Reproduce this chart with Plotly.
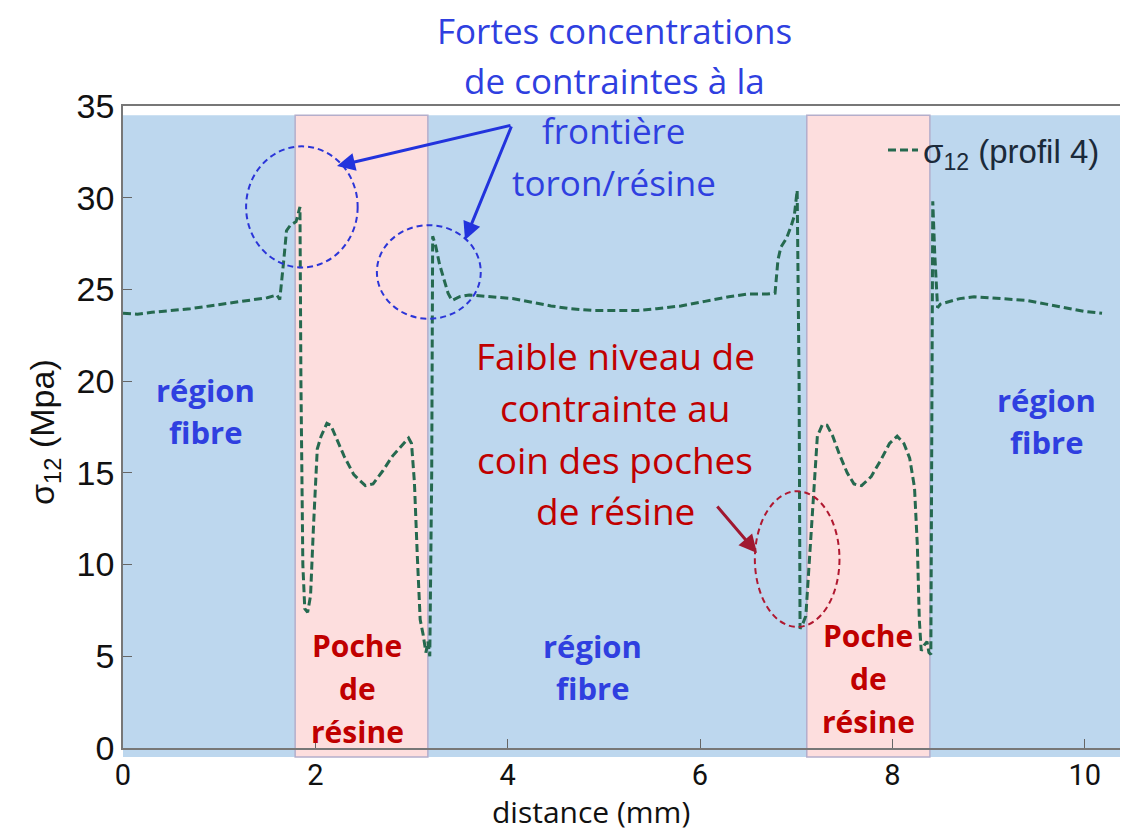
import plotly.graph_objects as go

# profil 4 : contrainte de cisaillement sigma_12 le long de la distance
distance = [0.0, 0.15, 0.3, 0.5, 0.7, 0.9, 1.1, 1.3, 1.5, 1.6, 1.63, 1.67, 1.70, 1.74, 1.80, 1.84,
            1.85, 1.87, 1.89, 1.92, 1.95, 1.98, 2.02, 2.06, 2.12, 2.16, 2.22, 2.30, 2.40, 2.52,
            2.60, 2.70, 2.80, 2.90, 2.97, 3.00, 3.03, 3.06, 3.09, 3.12, 3.15, 3.17, 3.19, 3.21,
            3.22, 3.25, 3.29, 3.34, 3.38, 3.42, 3.50, 3.6, 3.7, 3.85, 4.05, 4.25, 4.45, 4.65,
            4.9, 5.1, 5.35, 5.55, 5.8, 6.05, 6.3, 6.5, 6.7, 6.78, 6.81, 6.84, 6.9, 6.95, 6.98,
            7.01, 7.03, 7.04, 7.07, 7.10, 7.14, 7.18, 7.22, 7.27, 7.32, 7.38, 7.45, 7.53, 7.60,
            7.68, 7.78, 7.88, 7.97, 8.05, 8.12, 8.18, 8.23, 8.26, 8.28, 8.30, 8.33, 8.36, 8.38,
            8.40, 8.42, 8.44, 8.46, 8.47, 8.50, 8.57, 8.7, 8.85, 9.0, 9.2, 9.4, 9.6, 9.8, 10.0, 10.18]
sigma12 = [23.7, 23.65, 23.75, 23.85, 23.95, 24.1, 24.25, 24.4, 24.55, 24.7, 24.45, 26.5, 28.2, 28.5, 28.7, 29.5,
           20.0, 10.0, 7.6, 7.4, 8.3, 12.0, 16.3, 17.0, 17.7, 17.6, 16.9, 15.9, 14.9, 14.3,
           14.4, 15.1, 15.9, 16.5, 16.9, 16.6, 14.5, 10.5, 7.0, 6.2, 5.2, 5.8, 5.0, 15.0,
           27.9, 27.4, 26.4, 25.5, 24.8, 24.4, 24.6, 24.7, 24.65, 24.6, 24.5, 24.3, 24.1, 23.95,
           23.85, 23.85, 23.85, 23.95, 24.1, 24.35, 24.6, 24.75, 24.75, 24.8, 26.6, 27.3, 27.8, 28.5, 29.0,
           30.4, 20.0, 6.5, 6.8, 7.2, 10.5, 13.5, 17.0, 17.6, 17.6, 17.0, 16.0, 15.0, 14.4,
           14.3, 14.8, 15.7, 16.6, 17.0, 16.6, 15.8, 14.2, 11.0, 7.0, 5.3, 5.6, 5.8, 5.2,
           5.1, 29.8, 27.0, 25.0, 24.0, 24.2, 24.3, 24.5, 24.6, 24.55, 24.5, 24.4, 24.2, 24.0, 23.8, 23.7]

# poches de resine (debut, fin) en mm
poches = [(1.79, 3.17), (7.11, 8.39)]
x_max = 10.45

BLUE_TXT = "#2f3fe0"
RED_TXT = "#c00000"
FONT_TXT = "Open Sans, Lato, sans-serif"
FONT_NUM = "Liberation Sans, Arial"

# conversion pixels de la page -> paper (zone de trace : 123..1128 x 106..748)
def px(x):
    return (x - 123) / 1005

def py(y):
    return (748 - y) / 642

fig = go.Figure()

fig.add_trace(go.Scatter(
    x=distance, y=sigma12, mode="lines",
    name="σ<sub>12</sub> (profil 4)",
    line=dict(color="#25694f", width=3, dash="8px,4px"),
))

# fond : region fibre (bleu) et poches de resine (rose)
fig.add_shape(type="rect", xref="x", yref="paper", x0=0, x1=x_max, y0=-0.014, y1=34.5 / 35,
              fillcolor="#bdd7ee", line_width=0, layer="below")
for a, b in poches:
    fig.add_shape(type="rect", xref="x", yref="paper", x0=a, x1=b, y0=-0.014, y1=34.5 / 35,
                  fillcolor="#fddede", line=dict(color="#b4aecb", width=1.5), layer="below")

# ellipses en pointilles
fig.add_shape(type="circle", xref="x", yref="y", x0=1.28, x1=2.44, y0=26.2, y1=32.8,
              line=dict(color="#2b35d8", width=2, dash="6px,4px"))
fig.add_shape(type="circle", xref="x", yref="y", x0=2.64, x1=3.72, y0=23.4, y1=28.5,
              line=dict(color="#2b35d8", width=2, dash="6px,4px"))
fig.add_shape(type="circle", xref="x", yref="y", x0=6.57, x1=7.45, y0=6.6, y1=14.0,
              line=dict(color="#b01830", width=2, dash="6px,4px"))

def txt(s, x, y, color, size, bold=False):
    fig.add_annotation(text=f"<b>{s}</b>" if bold else s, x=px(x), y=py(y), xref="paper", yref="paper",
                       showarrow=False, xanchor="center", yanchor="middle",
                       font=dict(family=FONT_TXT, size=size, color=color))

for s, y in [("Fortes concentrations", 31), ("de contraintes à la", 80),
             ("frontière", 131), ("toron/résine", 183)]:
    txt(s, 614, y, BLUE_TXT, 35)

for s, y in [("Faible niveau de", 355), ("contrainte au", 407),
             ("coin des poches", 459), ("de résine", 510)]:
    txt(s, 615, y, RED_TXT, 37)

for cx, cy in [(205, 390), (592, 646), (1046, 400)]:
    txt("région", cx, cy, BLUE_TXT, 31, bold=True)
    txt("fibre", cx, cy + 42, BLUE_TXT, 31, bold=True)

for cx, cy in [(357, 645), (868, 635)]:
    txt("Poche", cx, cy, RED_TXT, 30, bold=True)
    txt("de", cx, cy + 43, RED_TXT, 30, bold=True)
    txt("résine", cx, cy + 86, RED_TXT, 30, bold=True)

# fleches
def arrow(hx, hy, tx, ty, color):
    fig.add_annotation(x=px(hx), y=py(hy), xref="paper", yref="paper", text="",
                       showarrow=True, ax=tx - hx, ay=ty - hy, arrowhead=2, arrowsize=1.2,
                       arrowwidth=3, arrowcolor=color)

arrow(337, 166, 512, 125, "#2233dd")
arrow(465, 240, 512, 125, "#2233dd")
arrow(757, 553, 716, 505, "#a01830")

# titres des axes
fig.add_annotation(text="distance (mm)", x=px(591), y=py(811), xref="paper", yref="paper",
                   showarrow=False, xanchor="center", yanchor="middle",
                   font=dict(family=FONT_TXT, size=30, color="#111111"))
fig.add_annotation(text="σ<sub>12</sub> (Mpa)", x=px(45), y=py(432),
                   xref="paper", yref="paper", showarrow=False, xanchor="center", yanchor="middle",
                   textangle=-90, font=dict(family=FONT_NUM, size=34, color="#111111"))

fig.update_xaxes(range=[0, x_max], dtick=2, tick0=0, ticks="inside", ticklen=9, tickcolor="#666666",
                 showline=True, linecolor="#777777", linewidth=1.5, mirror=True, showgrid=False,
                 zeroline=False,
                 tickfont=dict(family="Liberation Sans Narrow, Roboto, Liberation Sans", size=29,
                               color="#111111"))
fig.update_yaxes(range=[0, 35], dtick=5, tick0=0, ticks="inside", ticklen=9, tickcolor="#666666",
                 showline=True, linecolor="#777777", linewidth=1.5, showgrid=False, zeroline=False,
                 tickfont=dict(family=FONT_NUM, size=34, color="#111111"))

fig.update_layout(
    width=1120, height=832,
    margin=dict(l=115, r=0, t=98, b=92),
    paper_bgcolor="white", plot_bgcolor="white",
    showlegend=True,
    legend=dict(x=px(883), y=py(150), xanchor="left", yanchor="middle", bgcolor="rgba(0,0,0,0)",
                font=dict(family=FONT_NUM, size=33, color="#1b2a3a"), itemwidth=30),
)

fig.write_html("out.html")
